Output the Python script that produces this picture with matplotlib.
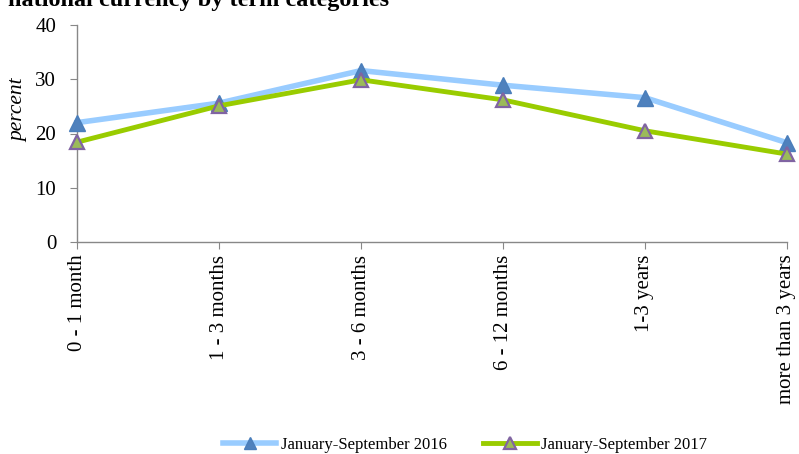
import matplotlib
matplotlib.use("Agg")
import matplotlib.pyplot as plt

categories = ["0 - 1 month", "1 - 3 months", "3 - 6 months", "6 - 12 months", "1-3 years", "more than 3 years"]
series_2016 = [22.0, 25.6, 31.6, 28.9, 26.6, 18.3]
series_2017 = [18.4, 25.1, 29.9, 26.2, 20.5, 16.2]
label_2016 = "January-September 2016"
label_2017 = "January-September 2017"
title = "national currency by term categories"
yticks = [0, 10, 20, 30, 40]

plt.rcParams['font.family'] = ['Liberation Serif', 'DejaVu Serif']

W, H = 799, 454
fig = plt.figure(figsize=(W / 100, H / 100), dpi=100)
ax = fig.add_axes([77 / W, (H - 242) / H, (787 - 77) / W, (242 - 25) / H])

x = list(range(len(categories)))
ax.plot(x, series_2016, color='#99CCFF', lw=4.0, marker='^', ms=11,
        mfc='#4F81BD', mec='#4A7EBB', mew=1.0, label=label_2016, zorder=3, clip_on=False)
ax.plot(x, series_2017, color='#99CC00', lw=3.5, marker='^', ms=10,
        mfc='#9BBB59', mec='#8064A2', mew=1.6, label=label_2017, zorder=4, clip_on=False)

ax.set_xlim(0, len(categories) - 1)
ax.set_ylim(0, 40)
ax.set_yticks(yticks)
ax.set_xticks(x)
ax.set_xticklabels(categories, rotation=90, fontsize=15)
ax.tick_params(axis='y', labelsize=15, direction='out', length=5, color='#888888', pad=10)
ax.tick_params(axis='x', direction='out', length=5, color='#888888', pad=4)
for s in ['top', 'right']:
    ax.spines[s].set_visible(False)
for s in ['left', 'bottom']:
    ax.spines[s].set_color('#888888')
    ax.spines[s].set_linewidth(1.0)

fig.text(19 / W, 1 - 110 / H, "percent", rotation=90, style='italic',
         fontsize=15.5, ha='center', va='center')

fig.text(8 / W, 1 - 6 / H, title, fontsize=17.5, fontweight='bold', ha='left', va='baseline')

fig.legend(loc='center', bbox_to_anchor=(465 / W, 1 - 445 / H), ncol=2, frameon=False,
           fontsize=12, handlelength=3.2, columnspacing=2.2, handletextpad=0.25,
           markerscale=0.8)

fig.savefig("out.png", dpi=100)
